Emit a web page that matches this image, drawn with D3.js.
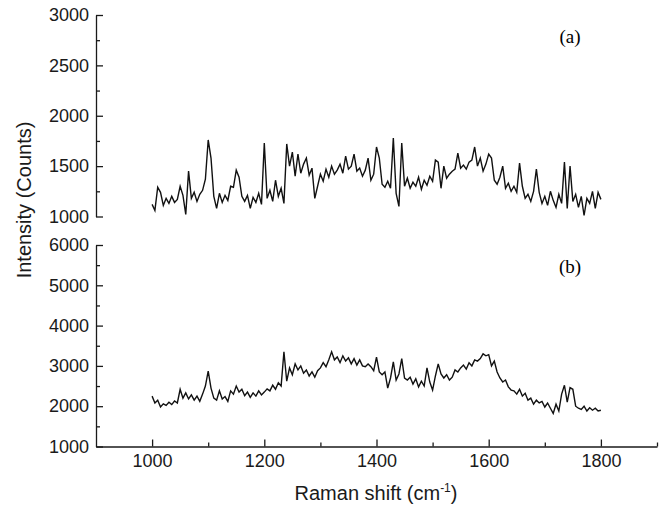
<!DOCTYPE html>
<html>
<head>
<meta charset="utf-8">
<script src="https://cdn.jsdelivr.net/npm/d3@7"></script>
<style>
  body { margin: 0; background: #fff; }
  svg { display: block; }
  .axis text { font-family: "Liberation Sans", Arial, sans-serif; font-size: 18px; fill: #1a1a1a; }
  .axis path, .axis line { stroke: #1a1a1a; stroke-width: 1.3; }
</style>
</head>
<body>
<svg id="chart" width="665" height="506"></svg>
<script>
// Raman shift grid, cm-1 (sampled every 5)
const shift = d3.range(1000, 1801, 5);

// spectrum (a), counts
const countsA = [
  1120,1060,1290,1240,1110,1180,1130,1200,1140,1170,
  1300,1210,1020,1450,1180,1240,1150,1220,1260,1370,
  1760,1580,1200,1080,1230,1140,1210,1160,1300,1290,
  1460,1390,1200,1150,1210,1080,1190,1140,1230,1120,
  1730,1180,1260,1150,1360,1200,1280,1130,1720,1500,
  1640,1400,1620,1430,1520,1580,1410,1480,1180,1300,
  1420,1350,1470,1390,1500,1420,1460,1520,1430,1600,
  1470,1500,1620,1450,1480,1400,1460,1580,1360,
  1420,1690,1580,1320,1290,1350,1280,1780,1230,1100,
  1730,1300,1380,1280,1340,1300,1390,1270,1360,1310,
  1400,1350,1560,1540,1280,1500,1380,1420,1450,
  1470,1630,1480,1510,1470,1540,1560,1690,1500,1580,
  1450,1520,1620,1580,1360,1320,1390,1500,1280,1330,
  1250,1300,1240,1530,1300,1180,1220,1150,1250,1470,
  1240,1130,1200,1110,1250,1160,1090,1220,1130,1540,
  1080,1500,1150,1220,1090,1200,1010,1180,1130,1250,
  1080,1240,1170
];

// spectrum (b), counts
const countsB = [
  2250,2080,2150,1980,2060,2020,2100,2040,2130,2080,
  2420,2200,2330,2180,2280,2150,2250,2120,2300,2500,
  2870,2450,2200,2150,2380,2180,2240,2120,2380,2300,
  2500,2350,2420,2260,2350,2220,2330,2250,2380,2280,
  2350,2430,2380,2520,2420,2580,2500,3350,2620,2950,
  2780,3050,2900,3000,2820,2900,2750,2850,2720,2880,
  2950,3080,2980,3150,3350,3150,3220,3080,3250,3120,
  3200,3050,3180,3020,3150,3000,2980,3050,2980,
  2880,3220,2850,2780,2850,2450,2700,3100,2650,2800,
  3180,2700,2650,2720,2550,2680,2480,2620,2500,2950,
  2600,2400,2750,3050,2800,2700,2780,2650,2720,2900,
  2850,2950,3020,2920,3080,3000,3150,3120,3180,
  3300,3250,3280,3000,3120,2850,2700,2600,2650,2480,
  2400,2380,2300,2420,2250,2320,2150,2200,2050,2150,
  2080,2120,1980,2080,1950,1820,2050,1880,2300,2520,
  2100,2460,2420,2000,1950,1920,2000,1880,1960,1900,
  1950,1880,1900
];

const xTicks = [1000, 1200, 1400, 1600, 1800];
const xMinor = [1100, 1300, 1500, 1700, 1900];
const yTicksA = [1000, 1500, 2000, 2500, 3000];
const yMinorA = [1250, 1750, 2250, 2750];
const yTicksB = [1000, 2000, 3000, 4000, 5000, 6000];
const yMinorB = [1500, 2500, 3500, 4500, 5500];

const svg = d3.select("#chart");

const x = d3.scaleLinear().domain([900, 1900]).range([96, 657]);
const yA = d3.scaleLinear().domain([1000, 3000]).range([216.5, 15]);
const yB = d3.scaleLinear().domain([1000, 6000]).range([446.5, 245]);

// left axes, ticks pointing inside
function leftAxis(y, major, minor) {
  const g = svg.append("g").attr("class", "axis").attr("transform", `translate(${x(900)},0)`);
  g.call(d3.axisLeft(y).tickValues(major).tickSizeInner(-7).tickSizeOuter(0).tickPadding(7).tickFormat(d3.format("d")));
  g.append("g").call(d3.axisLeft(y).tickValues(minor).tickSizeInner(-4).tickSizeOuter(0).tickFormat(""))
    .select(".domain").remove();
}
leftAxis(yA, yTicksA, yMinorA);
leftAxis(yB, yTicksB, yMinorB);

// bottom axis
const gx = svg.append("g").attr("class", "axis").attr("transform", `translate(0,${yB(1000)})`);
gx.call(d3.axisBottom(x).tickValues(xTicks).tickSizeInner(-7).tickSizeOuter(0).tickPadding(8).tickFormat(d3.format("d")));
gx.append("g").call(d3.axisBottom(x).tickValues(xMinor).tickSizeInner(-4).tickSizeOuter(0).tickFormat(""))
  .select(".domain").remove();

// spectra
const lineA = d3.line().x((d, i) => x(shift[i])).y(d => yA(d));
const lineB = d3.line().x((d, i) => x(shift[i])).y(d => yB(d));

svg.append("path").datum(countsA)
  .attr("d", lineA).attr("fill", "none").attr("stroke", "#111").attr("stroke-width", 1.4);
svg.append("path").datum(countsB)
  .attr("d", lineB).attr("fill", "none").attr("stroke", "#111").attr("stroke-width", 1.4);

// panel labels
svg.append("text").attr("x", 570).attr("y", 43).attr("text-anchor", "middle")
  .style("font-family", "'Liberation Serif', 'Times New Roman', serif").style("font-size", "19px").text("(a)");
svg.append("text").attr("x", 570).attr("y", 273).attr("text-anchor", "middle")
  .style("font-family", "'Liberation Serif', 'Times New Roman', serif").style("font-size", "19px").text("(b)");

// axis titles
const title = svg.append("text").attr("x", 376).attr("y", 500).attr("text-anchor", "middle")
  .style("font-family", "'Liberation Sans', Arial, sans-serif").style("font-size", "20px").attr("fill", "#1a1a1a");
title.append("tspan").text("Raman shift (cm");
title.append("tspan").attr("dy", -8).style("font-size", "12px").text("-1");
title.append("tspan").attr("dy", 8).text(")");

svg.append("text").attr("transform", "translate(31,200) rotate(-90)").attr("text-anchor", "middle")
  .style("font-family", "'Liberation Sans', Arial, sans-serif").style("font-size", "20px").attr("fill", "#1a1a1a")
  .text("Intensity (Counts)");
</script>
</body>
</html>
